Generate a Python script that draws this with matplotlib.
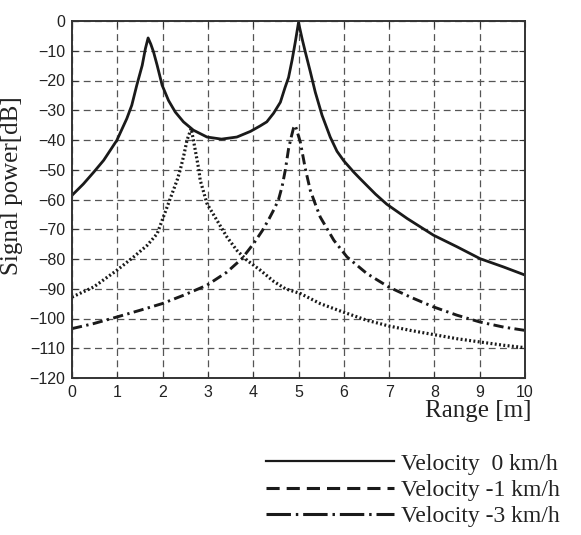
import numpy as np
import matplotlib.pyplot as plt
from matplotlib.lines import Line2D

# Datos (rango en m, potencia en dB)
x_v0 = [0, 0.25, 0.48, 0.70, 0.99, 1.21, 1.32, 1.43, 1.55, 1.62, 1.68, 1.74, 1.80, 1.88,
        1.99, 2.13, 2.28, 2.46, 2.68, 2.98, 3.3, 3.64, 3.94, 4.15, 4.30, 4.45, 4.6, 4.7,
        4.78, 4.86, 4.93, 5.0, 5.08, 5.15, 5.26, 5.37, 5.52, 5.70, 5.85, 6.0, 6.22, 6.36,
        6.51, 6.7, 6.95, 7.4, 7.98, 8.5, 9.01, 9.53, 10]
y_v0 = [-58.6, -54.8, -50.8, -46.8, -40.1, -32.8, -28.3, -21.6, -14.9, -9.3, -5.7, -7.8,
        -10.4, -14.9, -21.6, -26.7, -30.6, -33.9, -36.7, -39.0, -39.7, -39.0, -37.1, -35.3,
        -33.9, -31.0, -27.3, -22.5, -19.0, -13.0, -7.0, -0.5, -6.0, -10.4, -17.0, -23.9,
        -31.7, -39.0, -43.8, -47.0, -50.8, -53.0, -55.3, -58.2, -61.6, -66.4, -72.0, -75.9,
        -79.9, -82.7, -85.4]

x_dot = [0, 0.48, 0.99, 1.36, 1.66, 1.88, 1.99, 2.10, 2.21, 2.32, 2.39, 2.47, 2.54, 2.63,
         2.68, 2.74, 2.8, 2.83, 2.98, 3.20, 3.42, 3.64, 3.86, 4.16, 4.45, 4.71, 5.04, 5.48,
         5.98, 6.51, 6.99, 7.47, 7.98, 8.5, 9.01, 9.53, 10]
y_dot = [-92.8, -89.4, -83.8, -79.3, -75.4, -71.5, -67.0, -62.5, -58.0, -53.5, -50, -45,
         -40, -36.2, -40, -45, -50, -53.5, -61.4, -67.0, -72.6, -77.1, -80.4, -83.8, -87.5,
         -90, -91.6, -95.0, -97.8, -100.6, -102.5, -104.0, -105.4, -106.8, -107.9, -109.0,
         -109.8]

x_v3 = [0, 0.48, 0.99, 1.51, 1.99, 2.46, 2.98, 3.42, 3.75, 4.01, 4.2, 4.35, 4.47, 4.56,
        4.64, 4.71, 4.78, 4.84, 4.89, 4.93, 5.04, 5.15, 5.26, 5.37, 5.48, 5.78, 6.07, 6.51,
        6.99, 7.47, 7.98, 8.5, 9.01, 9.53, 10]
y_v3 = [-103.4, -101.7, -99.5, -97.2, -95.0, -92.2, -88.8, -84.4, -79.9, -74.8, -70.5,
        -66.5, -63.0, -60.0, -55.5, -50.0, -43.0, -39.0, -36.0, -35.1, -40.7, -49.6, -56.9,
        -61.5, -65.9, -73.7, -79.3, -84.9, -89.4, -92.8, -96.1, -98.9, -101.2, -102.9,
        -104.0]

etiquetas = ['Velocity  0 km/h', 'Velocity -1 km/h', 'Velocity -3 km/h']

fig = plt.figure(figsize=(5.81, 5.35), dpi=100)
ax = fig.add_axes([72/581, 1-378/535, 453/581, 357/535])

ax.plot(x_v3, y_v3, color='#1a1a1a', lw=2.1, linestyle=(0, (3.5, 1.5, 0.8, 1.5)))
ax.plot(x_dot, y_dot, color='#1a1a1a', lw=2.3, linestyle=(0, (0.6, 0.75)))
ax.plot(x_v0, y_v0, color='#1a1a1a', lw=2.0, solid_joinstyle='round')

ax.set_xlim(0, 10)
ax.set_ylim(-120, 0)
ax.set_xticks(range(0, 11))
ax.set_yticks(range(-120, 1, 10))
ax.grid(True, color='#555555', lw=0.9, linestyle=(0, (5.5, 3.5)))
ax.tick_params(direction='in', length=4, top=True, right=True, labelsize=11.5,
               colors='#333333', labelcolor='#222222', pad=5)
for lab in ax.get_xticklabels() + ax.get_yticklabels():
    lab.set_family('Liberation Sans')
for s in ax.spines.values():
    s.set_color('#333333')
    s.set_linewidth(1.4)

ax.set_ylabel('Signal power[dB]', family='Liberation Serif', fontsize=18, color='#222222')
ax.yaxis.set_label_coords(-0.108, 0.538)
ax.set_xlabel('Range [m]', family='Liberation Serif', fontsize=18, color='#222222', ha='right')
ax.xaxis.set_label_coords(1.015, -0.062)

# Leyenda fuera de los ejes
manejadores = [Line2D([], [], color='#1a1a1a', lw=1.6),
               Line2D([], [], color='#1a1a1a', lw=2.2, linestyle=(0, (4.3, 2.3))),
               Line2D([], [], color='#1a1a1a', lw=2.2, linestyle=(0, (8, 1.6, 0.8, 1.6)))]
fig.legend(manejadores, etiquetas, loc='upper left', bbox_to_anchor=(266/581, 1-453/535),
           frameon=False, borderpad=0, borderaxespad=0, handlelength=5.4, handletextpad=0.3,
           labelspacing=0.2, prop={'family': 'Liberation Serif', 'size': 17}, labelcolor='#222222')

fig.savefig('out.png', dpi=100)
